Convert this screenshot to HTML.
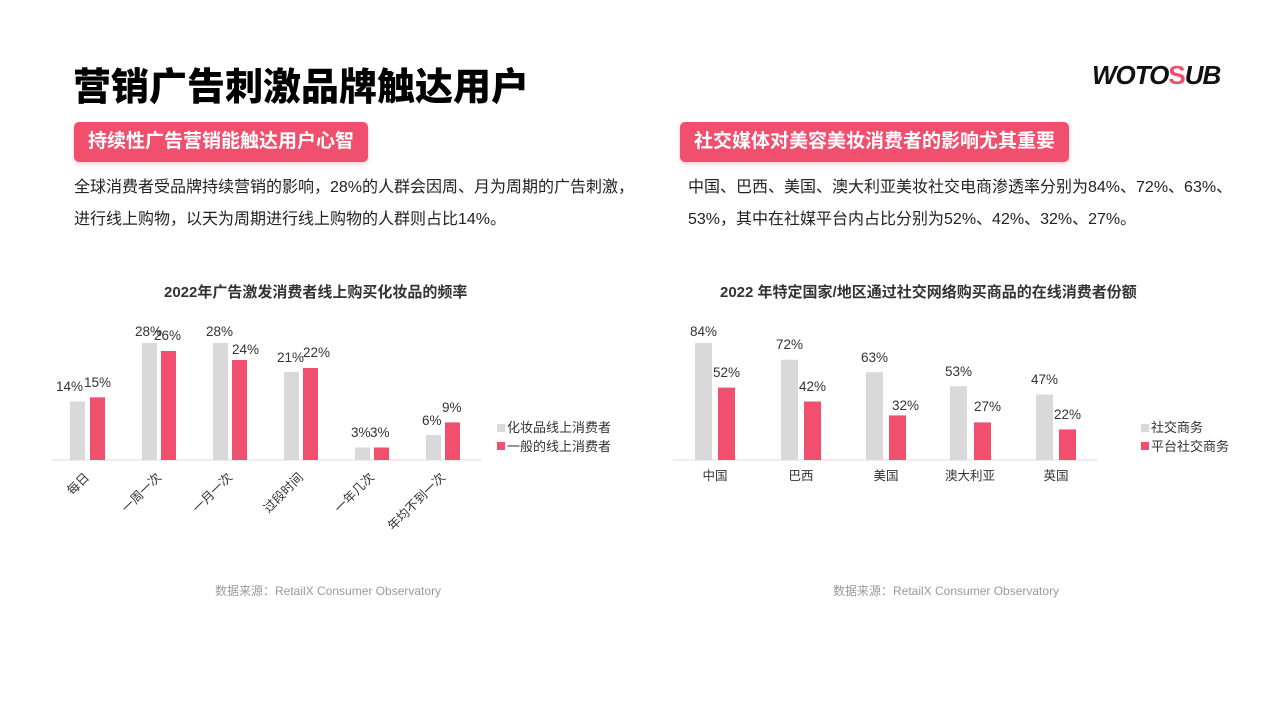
<!DOCTYPE html>
<html><head><meta charset="utf-8"><style>
body{margin:0;width:1280px;height:720px;background:#fff;font-family:"Liberation Sans","Noto Sans CJK SC",sans-serif;position:relative;overflow:hidden}
.a{position:absolute;white-space:nowrap}
.h1{left:73px;top:56px;font-size:38px;font-weight:900;color:#000}
.tag{background:#f0506e;color:#fff;font-size:19px;font-weight:bold;border-radius:5px;padding:0 14px;height:40px;line-height:40px;box-shadow:0 2px 4px rgba(240,80,110,.3)}
.p{font-size:16px;color:#222;line-height:32px}
.ct{font-size:15px;font-weight:bold;color:#333}
.src{font-size:12px;color:#999}
</style></head><body>
<div class="a h1">营销广告刺激品牌触达用户</div>
<div class="a" style="left:1092px;top:60px;font-size:26px;font-weight:900;color:#111;letter-spacing:-1px;font-style:italic">WOTO<span style="color:#f0506e;font-style:normal">S</span>UB</div>
<div class="a tag" style="left:74px;top:122px">持续性广告营销能触达用户心智</div>
<div class="a tag" style="left:680px;top:122px">社交媒体对美容美妆消费者的影响尤其重要</div>
<div class="a p" style="left:74px;top:172px">全球消费者受品牌持续营销的影响，28%的人群会因周、月为周期的广告刺激，<br>进行线上购物，以天为周期进行线上购物的人群则占比14%。</div>
<div class="a p" style="left:688px;top:172px">中国、巴西、美国、澳大利亚美妆社交电商渗透率分别为84%、72%、63%、<br>53%，其中在社媒平台内占比分别为52%、42%、32%、27%。</div>
<div class="a ct" style="left:164px;top:281px">2022年广告激发消费者线上购买化妆品的频率</div>
<div class="a ct" style="left:720px;top:281px">2022 年特定国家/地区通过社交网络购买商品的在线消费者份额</div>
<svg class="a" style="left:0;top:0" width="1280" height="720" font-family="Liberation Sans,Noto Sans CJK SC,sans-serif" font-size="13.5" fill="#333">
<line x1="52" y1="460" x2="482" y2="460" stroke="#ddd"/>
<line x1="673" y1="460" x2="1098" y2="460" stroke="#ddd"/>
<g>
<rect x="70" y="401.5" width="15" height="58.5" fill="#d9d9d9"/><rect x="90" y="397.3" width="15" height="62.7" fill="#f0506e"/>
<text x="56" y="391">14%</text><text x="84" y="387">15%</text>
<rect x="142" y="343" width="15" height="117" fill="#d9d9d9"/><rect x="161" y="351" width="15" height="109" fill="#f0506e"/>
<text x="135" y="336">28%</text><text x="154" y="340">26%</text>
<rect x="213" y="343" width="15" height="117" fill="#d9d9d9"/><rect x="232" y="360" width="15" height="100" fill="#f0506e"/>
<text x="206" y="336">28%</text><text x="232" y="354">24%</text>
<rect x="284" y="372" width="15" height="88" fill="#d9d9d9"/><rect x="303" y="368" width="15" height="92" fill="#f0506e"/>
<text x="277" y="362">21%</text><text x="303" y="357">22%</text>
<rect x="355" y="447.5" width="15" height="12.5" fill="#d9d9d9"/><rect x="374" y="447.5" width="15" height="12.5" fill="#f0506e"/>
<text x="351" y="437">3%</text><text x="370" y="437">3%</text>
<rect x="426" y="435" width="15" height="25" fill="#d9d9d9"/><rect x="445" y="422.4" width="15" height="37.6" fill="#f0506e"/>
<text x="422" y="425">6%</text><text x="442" y="412">9%</text>
<rect x="497" y="424" width="8" height="8" fill="#d9d9d9"/><text x="507" y="432" font-size="13">化妆品线上消费者</text>
<rect x="497" y="442" width="8" height="8" fill="#f0506e"/><text x="507" y="451" font-size="13">一般的线上消费者</text>
<g font-size="12.5">
<text transform="translate(90,478) rotate(-45)" text-anchor="end">每日</text>
<text transform="translate(162,478) rotate(-45)" text-anchor="end">一周一次</text>
<text transform="translate(233,478) rotate(-45)" text-anchor="end">一月一次</text>
<text transform="translate(304,478) rotate(-45)" text-anchor="end">过段时间</text>
<text transform="translate(375,478) rotate(-45)" text-anchor="end">一年几次</text>
<text transform="translate(446,478) rotate(-45)" text-anchor="end">年均不到一次</text>
</g>
</g>
<g>
<rect x="695" y="343" width="17" height="117" fill="#d9d9d9"/><rect x="718" y="387.6" width="17" height="72.4" fill="#f0506e"/>
<text x="690" y="336">84%</text><text x="713" y="377">52%</text>
<rect x="781" y="359.7" width="17" height="100.3" fill="#d9d9d9"/><rect x="804" y="401.5" width="17" height="58.5" fill="#f0506e"/>
<text x="776" y="349">72%</text><text x="799" y="391">42%</text>
<rect x="866" y="372.2" width="17" height="87.8" fill="#d9d9d9"/><rect x="889" y="415.4" width="17" height="44.6" fill="#f0506e"/>
<text x="861" y="362">63%</text><text x="892" y="410">32%</text>
<rect x="950" y="386.2" width="17" height="73.8" fill="#d9d9d9"/><rect x="974" y="422.4" width="17" height="37.6" fill="#f0506e"/>
<text x="945" y="376">53%</text><text x="974" y="411">27%</text>
<rect x="1036" y="394.5" width="17" height="65.5" fill="#d9d9d9"/><rect x="1059" y="429.4" width="17" height="30.6" fill="#f0506e"/>
<text x="1031" y="384">47%</text><text x="1054" y="419">22%</text>
<rect x="1141" y="424" width="8" height="8" fill="#d9d9d9"/><text x="1151" y="432" font-size="13">社交商务</text>
<rect x="1141" y="442" width="8" height="8" fill="#f0506e"/><text x="1151" y="451" font-size="13">平台社交商务</text>
<g font-size="12.5" text-anchor="middle">
<text x="715" y="480">中国</text><text x="801" y="480">巴西</text><text x="886" y="480">美国</text><text x="970" y="480">澳大利亚</text><text x="1056" y="480">英国</text>
</g>
</g>
</svg>
<div class="a src" style="left:215px;top:582px">数据来源：RetailX Consumer Observatory</div>
<div class="a src" style="left:833px;top:582px">数据来源：RetailX Consumer Observatory</div>
</body></html>
